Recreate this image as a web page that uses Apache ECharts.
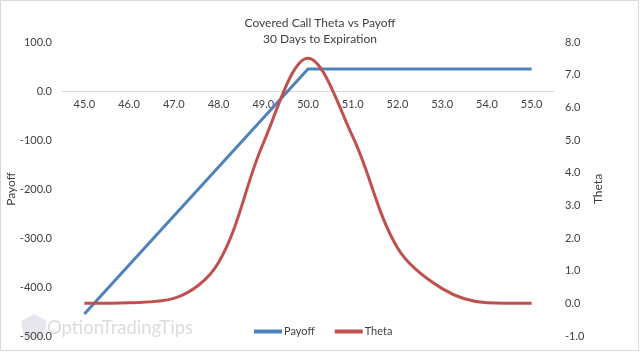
<!DOCTYPE html>
<html>
<head>
<meta charset="utf-8">
<script src="https://cdn.jsdelivr.net/npm/echarts@6/dist/echarts.min.js"></script>
<style>
html,body{margin:0;padding:0;background:#fff;}
#main{width:640px;height:352px;}
</style>
</head>
<body>
<div id="main"></div>
<script>
// stock price at expiration
var prices = ['45.0','46.0','47.0','48.0','49.0','50.0','51.0','52.0','53.0','54.0','55.0'];
var payoff = [-455, -355, -255, -155, -55, 45, 45, 45, 45, 45, 45];
var theta  = [0.0, 0.02, 0.15, 1.25, 4.9, 7.5, 5.1, 1.7, 0.45, 0.02, 0.0];

var fontFam = 'Lato, "Open Sans", sans-serif';

var option = {
	animation: false,
	textStyle: { fontFamily: fontFam },
	title: {
		text: 'Covered Call Theta vs Payoff\n30 Days to Expiration',
		left: 315,
		textAlign: 'center',
		top: 10,
		textStyle: {
			fontSize: 12,
			fontWeight: 'normal',
			color: '#404040',
			lineHeight: 16,
			fontFamily: fontFam
		}
	},
	legend: {
		bottom: 10,
		left: 249,
		itemWidth: 28,
		itemHeight: 4,
		itemGap: 20,
		icon: 'rect',
		textStyle: { fontSize: 11, color: '#404040', padding: [0, 0, 0, -3] },
		data: ['Payoff', 'Theta']
	},
	grid: {
		left: 62,
		right: 86,
		top: 42,
		bottom: 16,
		outerBoundsMode: 'none'
	},
	xAxis: {
		type: 'category',
		data: prices,
		boundaryGap: true,
		// put the axis on the payoff zero line
		offset: -245,
		axisLine: { onZero: false, lineStyle: { color: '#d9d9d9', width: 1 } },
		axisTick: { show: false },
		axisLabel: { color: '#404040', fontSize: 11, margin: 8 }
	},
	yAxis: [{
		type: 'value',
		name: 'Payoff',
		nameLocation: 'middle',
		nameRotate: 90,
		nameGap: 45,
		nameMoveOverlap: false,
		nameTextStyle: { color: '#404040', fontSize: 12 },
		min: -500,
		max: 100,
		interval: 100,
		axisLine: { show: false },
		axisTick: { show: false },
		splitLine: { show: false },
		axisLabel: {
			color: '#404040', fontSize: 11, margin: 10,
			formatter: function (v) { return v.toFixed(1); }
		}
	}, {
		type: 'value',
		name: 'Theta',
		nameLocation: 'middle',
		nameRotate: 90,
		nameGap: 38,
		nameMoveOverlap: false,
		nameTextStyle: { color: '#404040', fontSize: 12 },
		min: -1,
		max: 8,
		interval: 1,
		axisLine: { show: false },
		axisTick: { show: false },
		splitLine: { show: false },
		axisLabel: {
			color: '#404040', fontSize: 11, margin: 11,
			formatter: function (v) { return v.toFixed(1); }
		}
	}],
	graphic: [{
		type: 'rect',
		shape: { x: 0.5, y: 0.5, width: 638, height: 350 },
		style: { fill: 'none', stroke: '#d9d9d9', lineWidth: 1 },
		silent: true
	}, {
		type: 'polygon',
		shape: { points: [[21, 321], [34, 314], [47, 321], [44, 338], [24, 338]] },
		style: { fill: '#e6e6ee' },
		silent: true,
		z: 0
	}, {
		type: 'text',
		left: 47,
		top: 319,
		style: {
			text: 'OptionTradingTips',
			fontSize: 18.5,
			fontFamily: fontFam,
			fill: '#dcdcdc'
		},
		silent: true,
		z: 0
	}],
	series: [{
		name: 'Payoff',
		type: 'line',
		yAxisIndex: 0,
		data: payoff,
		symbol: 'none',
		itemStyle: { color: '#4f81bd' },
		lineStyle: { color: '#4f81bd', width: 3 },
		z: 3
	}, {
		name: 'Theta',
		type: 'line',
		yAxisIndex: 1,
		data: theta,
		smooth: 0.35,
		symbol: 'none',
		itemStyle: { color: '#c0504d' },
		lineStyle: { color: '#c0504d', width: 3 },
		z: 4
	}]
};

var myChart = echarts.init(document.getElementById('main'));
myChart.setOption(option);
</script>
</body>
</html>
